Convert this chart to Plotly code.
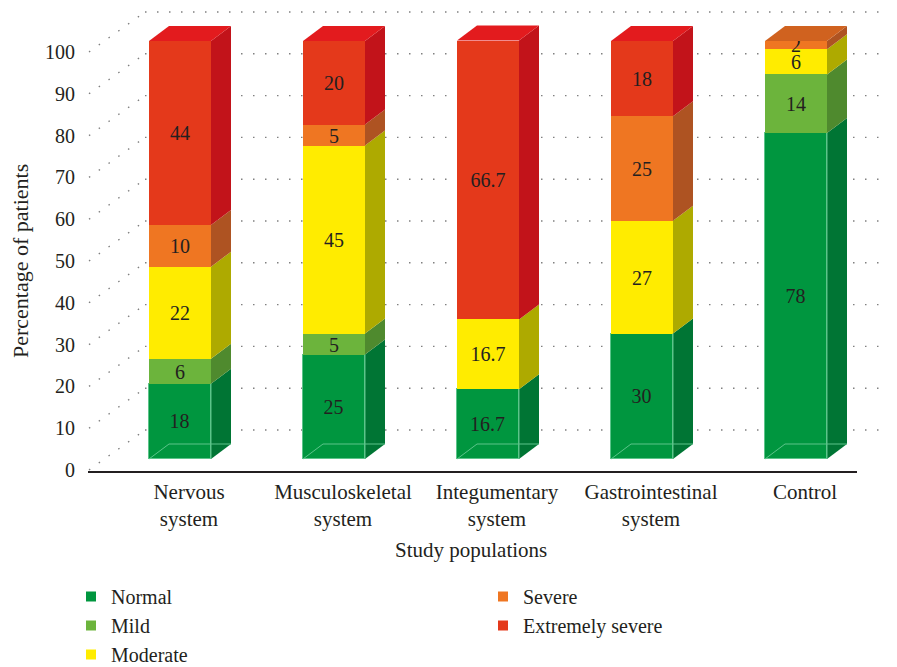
import plotly.graph_objects as go

# ---- data -------------------------------------------------------------
categories = ["Nervous<br>system", "Musculoskeletal<br>system", "Integumentary<br>system",
              "Gastrointestinal<br>system", "Control"]
severity = ["Normal", "Mild", "Moderate", "Severe", "Extremely severe"]
normal = [18, 25, 16.7, 30, 78]
mild = [6, 5, 0, 0, 14]
moderate = [22, 45, 16.7, 27, 6]
severe = [10, 5, 0, 25, 2]
extremely_severe = [44, 20, 66.7, 18, 0]
y_ticks = list(range(0, 101, 10))

series = [normal, mild, moderate, severe, extremely_severe]

# ---- styles -----------------------------------------------------------
front_colors = ["#00963f", "#6cb43c", "#ffec00", "#ef7622", "#e4391b"]
side_colors = ["#007534", "#4f8a2e", "#aeaa00", "#ae5322", "#c2131a"]
top_colors = ["#006e30", "#5a9c33", "#d8d000", "#d0621f", "#e31b1e"]
text_color = "#231f20"
grid_color = "#808080"
FONT = "Liberation Serif"

# ---- geometry (pixels) ------------------------------------------------
W, H = 897, 667
S = 4.18                      # pixels per percentage point
CAT_STEP = 154                # pixels between categories
FIRST_CENTER = 180            # centre of the first bar's front face
BAR_PX = 62
DEPTH_DX, DEPTH_DY = 20, 15   # bar depth offset
AX_LEFT, AX_RIGHT = 88, 857
AX_BOTTOM, AX_TOP = 471, 5
BAR_ZERO, LABEL_ZERO, WALL_ZERO = 459, 470, 430
WALL_LEFT, WALL_RIGHT = 145, 888


def xdat(px):
    return (px - FIRST_CENTER) / CAT_STEP


bw = BAR_PX / CAT_STEP
ddx = DEPTH_DX / CAT_STEP
ddy = DEPTH_DY / S
xs = list(range(len(categories)))

fig = go.Figure()

# front faces
for k, (name, vals) in enumerate(zip(severity, series)):
    fig.add_trace(go.Bar(
        x=xs, y=vals, width=bw, name=name, showlegend=False,
        marker=dict(color=front_colors[k],
                    line=dict(color="#5cc48a" if k == 0 else front_colors[k], width=1 if k == 0 else 0)),
        text=[(f"{v:g}" if v > 0 else "") for v in vals],
        textposition="inside", insidetextanchor="middle", textangle=0,
        textfont=dict(family=FONT, size=20, color=text_color),
        hoverinfo="skip",
    ))

# legend entries
for k, name in enumerate(severity):
    fig.add_trace(go.Scatter(
        x=[None], y=[None], mode="markers", name=name,
        marker=dict(symbol="square", size=10, color=front_colors[k]),
        legend="legend" if k < 3 else "legend2",
    ))

# invisible trace carrying the labelled value axis
fig.add_trace(go.Scatter(x=[None], y=[None], yaxis="y2", showlegend=False, hoverinfo="skip"))

shapes = []
dot = dict(color=grid_color, width=1.4, dash="1.5px,10.5px")
wall_shift = (BAR_ZERO - WALL_ZERO) / S
label_shift = (BAR_ZERO - LABEL_ZERO) / S

# back wall and side wall dotted gridlines
for v in y_ticks:
    shapes.append(dict(type="line", xref="paper", yref="y",
                       x0=WALL_LEFT / W, x1=WALL_RIGHT / W,
                       y0=v + wall_shift, y1=v + wall_shift,
                       line=dot, layer="below"))
    shapes.append(dict(type="line", xref="paper", yref="y",
                       x0=(AX_LEFT + 1) / W, x1=WALL_LEFT / W,
                       y0=v + label_shift, y1=v + wall_shift,
                       line=dot, layer="below"))

# side and top faces of the stacked blocks
for i in xs:
    xl = i - bw / 2
    xr = i + bw / 2
    base = 0.0
    top_k = None
    for k, vals in enumerate(series):
        v = vals[i]
        if v <= 0:
            continue
        t = base + v
        shapes.append(dict(
            type="path", xref="x", yref="y", layer="above",
            path=f"M {xr},{base} L {xr + ddx},{base + ddy} L {xr + ddx},{t + ddy} L {xr},{t} Z",
            fillcolor=side_colors[k], line=dict(width=0)))
        base = t
        top_k = k
    shapes.append(dict(
        type="path", xref="x", yref="y", layer="above",
        path=f"M {xl},{base} L {xr},{base} L {xr + ddx},{base + ddy} L {xl + ddx},{base + ddy} Z",
        fillcolor=top_colors[top_k], line=dict(width=0)))
    # faint hidden edges at the bottom of the block
    edge = dict(color="#5cc48a", width=1)
    shapes.append(dict(type="path", xref="x", yref="y", layer="above",
                       path=f"M {xl},0 L {xl + ddx},{ddy} L {xr + ddx},{ddy}",
                       line=edge))
    shapes.append(dict(type="line", xref="x", yref="y", layer="above",
                       x0=xr, x1=xr, y0=0, y1=series[0][i], line=edge))

legend_font = dict(family=FONT, size=20, color=text_color)

fig.update_layout(
    width=W, height=H, margin=dict(l=0, r=0, t=0, b=0, pad=0, autoexpand=False),
    plot_bgcolor="white", paper_bgcolor="white",
    barmode="stack", bargap=0,
    uniformtext=dict(minsize=20, mode="show"),
    font=dict(family=FONT, size=21, color=text_color),
    xaxis=dict(domain=[AX_LEFT / W, AX_RIGHT / W],
               range=[xdat(AX_LEFT), xdat(AX_RIGHT)],
               tickvals=xs, ticktext=categories,
               ticklabelshift=9, ticklabelstandoff=1,
               tickfont=dict(family=FONT, size=21, color=text_color),
               showline=True, linecolor="#231f20", linewidth=1.5,
               showgrid=False, zeroline=False, ticks="", automargin=False),
    yaxis=dict(domain=[(H - AX_BOTTOM) / H, (H - AX_TOP) / H],
               range=[(BAR_ZERO - AX_BOTTOM) / S, (BAR_ZERO - AX_TOP) / S],
               showticklabels=False, showgrid=False, zeroline=False, showline=False, ticks="",
               automargin=False),
    yaxis2=dict(overlaying="y", side="left", anchor="x",
                range=[(LABEL_ZERO - AX_BOTTOM) / S, (LABEL_ZERO - AX_TOP) / S],
                tickvals=y_ticks, ticks="", ticklabelstandoff=12,
                tickfont=dict(family=FONT, size=20, color=text_color),
                showgrid=False, zeroline=False, showline=False, automargin=False),
    legend=dict(x=71 / W, y=(H - 577) / H, xanchor="left", yanchor="top",
                traceorder="normal", font=legend_font,
                itemwidth=30, tracegroupgap=0, bgcolor="rgba(0,0,0,0)"),
    legend2=dict(x=483 / W, y=(H - 577) / H, xanchor="left", yanchor="top",
                 traceorder="normal", font=legend_font,
                 itemwidth=30, tracegroupgap=0, bgcolor="rgba(0,0,0,0)"),
    shapes=shapes,
    annotations=[
        dict(text="Percentage of patients", xref="paper", yref="paper",
             x=20 / W, y=(H - 261) / H, xanchor="center", yanchor="middle",
             textangle=-90, showarrow=False,
             font=dict(family=FONT, size=22, color=text_color)),
        dict(text="Study populations", xref="paper", yref="paper",
             x=471 / W, y=(H - 550) / H, xanchor="center", yanchor="middle",
             showarrow=False,
             font=dict(family=FONT, size=21, color=text_color)),
    ],
)

fig.write_html("out.html")
